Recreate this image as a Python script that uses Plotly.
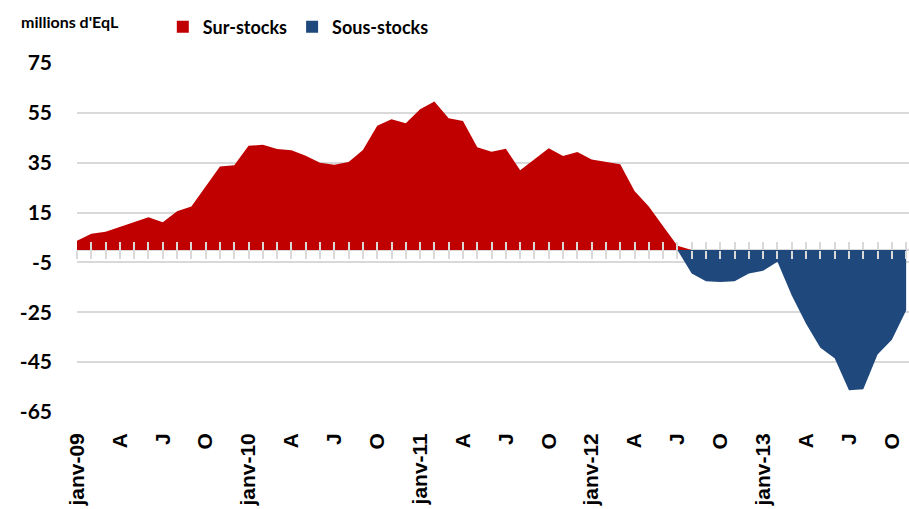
import plotly.graph_objects as go

# monthly series, janv-09 .. nov-13 (millions d'EqL)
sur_stocks = [3.7, 6.5, 7.3, 9.3, 11.3, 13.1, 11.1, 15.5, 17.4, 25.5, 33.5, 34.0,
              41.8, 42.2, 40.5, 40.0, 37.8, 35.0, 34.2, 35.3, 40.1, 49.8, 52.4, 50.8,
              56.4, 59.6, 52.8, 51.7, 41.2, 39.4, 40.6, 32.0, 36.3, 40.8, 37.7, 39.3,
              36.3, 35.5, 34.4, 23.7, 17.4, 9.5, 1.7, 0, 0, 0, 0, 0,
              0, 0, 0, 0, 0, 0, 0, 0, 0, 0, 0]
sous_stocks = [0, 0, 0, 0, 0, 0, 0, 0, 0, 0, 0, 0,
               0, 0, 0, 0, 0, 0, 0, 0, 0, 0, 0, 0,
               0, 0, 0, 0, 0, 0, 0, 0, 0, 0, 0, 0,
               0, 0, 0, 0, 0, 0, 0, -9.4, -12.6, -12.9, -12.6, -9.4,
               -8.3, -4.7, -18.3, -29.6, -39.2, -43.4, -56.3, -55.9, -41.9, -36.0, -24.3]
month_labels = ["janv-09", "", "", "A", "", "", "J", "", "", "O", "", "",
                "janv-10", "", "", "A", "", "", "J", "", "", "O", "", "",
                "janv-11", "", "", "A", "", "", "J", "", "", "O", "", "",
                "janv-12", "", "", "A", "", "", "J", "", "", "O", "", "",
                "janv-13", "", "", "A", "", "", "J", "", "", "O", ""]
y_ticks = [-65, -45, -25, -5, 15, 35, 55, 75]

x = list(range(len(month_labels)))
lab_x = [i for i, t in enumerate(month_labels) if t]
lab_t = [t for t in month_labels if t]

RED = "#C00000"
BLUE = "#1F497D"
GRID = "#d9d9d9"
HUMAN = "Lato, Liberation Sans, Arial"
YMIN, YMAX = y_ticks[0], y_ticks[-1]

fig = go.Figure()
for name, vals, col in (("Sur-stocks", sur_stocks, RED),
                        ("Sous-stocks", sous_stocks, BLUE)):
    fig.add_trace(go.Scatter(x=x, y=vals, name=name, mode="lines",
                             line=dict(width=0, color=col), fill="tozeroy",
                             fillcolor=col, showlegend=False))
    # legend entry with a square swatch
    fig.add_trace(go.Scatter(x=[None], y=[None], name=name, mode="markers",
                             marker=dict(symbol="square", size=12, color=col)))

# invisible carriers for the crossing tick-mark axes at y=0
for ax in ("x2", "x3"):
    fig.add_trace(go.Scatter(x=x, y=sur_stocks, xaxis=ax, mode="lines",
                             line=dict(width=0), opacity=0, showlegend=False,
                             hoverinfo="skip"))

zero_pos = (0 - YMIN) / (YMAX - YMIN)
tick_axis = dict(overlaying="x", matches="x", anchor="free", position=zero_pos,
                 tickmode="linear", tick0=0, dtick=1, ticklen=8, tickwidth=2,
                 tickcolor=GRID, showticklabels=False, showgrid=False,
                 showline=False, zeroline=False)

fig.update_layout(
    width=909, height=509,
    margin=dict(l=77, r=0, t=63, b=97, autoexpand=False),
    plot_bgcolor="white", paper_bgcolor="white",
    showlegend=True,
    legend=dict(orientation="h", x=0.266, xanchor="center", y=1.103,
                yanchor="middle", itemwidth=30,
                font=dict(family=HUMAN, size=18, color="black", weight="bold")),
    xaxis=dict(range=[0, 58.2], tickmode="array", tickvals=lab_x, ticktext=lab_t,
               tickangle=-90, ticks="", showgrid=False, showline=False,
               zeroline=False, ticklabelstandoff=16,
               tickfont=dict(family="Liberation Sans, Arial", size=21,
                             color="black", weight="bold")),
    xaxis2=dict(tick_axis, ticks="outside"),
    xaxis3=dict(tick_axis, ticks="inside"),
    yaxis=dict(range=[YMIN, YMAX], tickmode="array", tickvals=y_ticks,
               ticktext=[str(v) for v in y_ticks],
               showgrid=True, gridcolor=GRID, gridwidth=2,
               zeroline=True, zerolinecolor=GRID, zerolinewidth=2,
               showline=False, ticks="", ticklabelstandoff=24,
               tickfont=dict(family=HUMAN, size=21, color="black",
                             weight="bold")),
    annotations=[dict(text="millions d'EqL", xref="paper", yref="paper",
                      x=-0.0697, y=1.1175, xanchor="left", yanchor="middle",
                      showarrow=False,
                      font=dict(family=HUMAN, size=16, color="black",
                                weight="bold"))],
)

# page body has a default 8px margin; drop it so the figure fills the window
fig.write_html("out.html", config={"displayModeBar": False},
               post_script="document.body.style.margin='0';"
                           "document.body.style.overflow='hidden';")
